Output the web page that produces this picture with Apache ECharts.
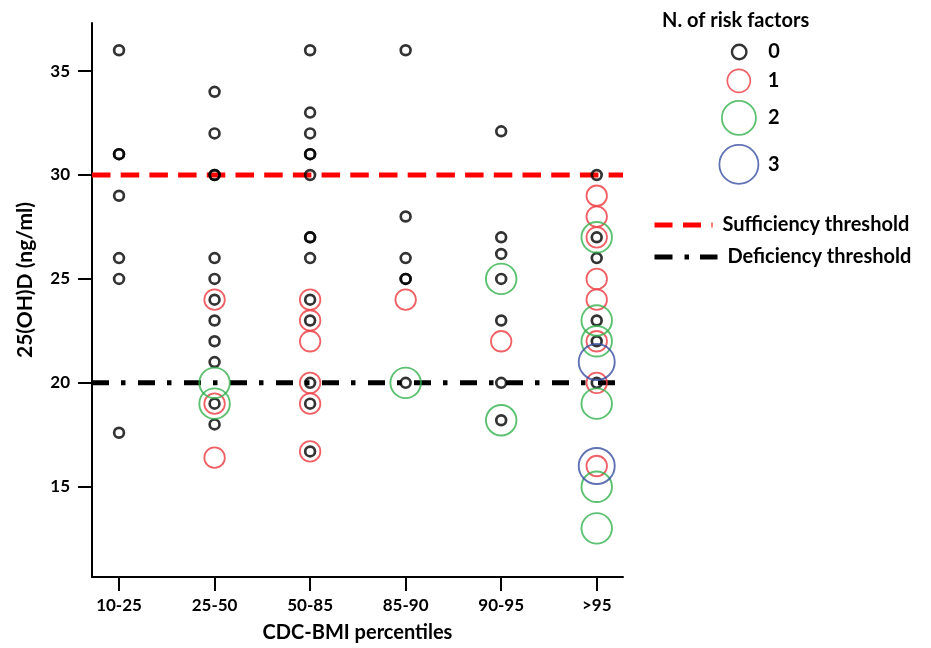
<!DOCTYPE html>
<html>
<head>
<meta charset="utf-8">
<script src="https://cdn.jsdelivr.net/npm/echarts@6/dist/echarts.min.js"></script>
<style>
  html, body { margin: 0; padding: 0; background: #fff; }
  #chart { width: 931px; height: 648px; }
</style>
</head>
<body>
<div id="chart"></div>
<script>
// categorie BMI (asse x) e tick dell'asse y
var categories = ['10-25', '25-50', '50-85', '85-90', '90-95', '>95'];
var yTicks = [15, 20, 25, 30, 35];

// punti [indice categoria, 25(OH)D] per numero di fattori di rischio
var risk0 = [
  [0, 36], [0, 31], [0, 31], [0, 29], [0, 26], [0, 25], [0, 17.6],
  [1, 34], [1, 32], [1, 30], [1, 30], [1, 26], [1, 25], [1, 24], [1, 23], [1, 22], [1, 21], [1, 19], [1, 18],
  [2, 36], [2, 33], [2, 32], [2, 31], [2, 31], [2, 30], [2, 27], [2, 27], [2, 26], [2, 24], [2, 23], [2, 20], [2, 19], [2, 16.7],
  [3, 36], [3, 28], [3, 26], [3, 25], [3, 25], [3, 20],
  [4, 32.1], [4, 27], [4, 26.2], [4, 25], [4, 23], [4, 20], [4, 18.2],
  [5, 30], [5, 27], [5, 26], [5, 23], [5, 22], [5, 20]
];
var risk1 = [
  [1, 24], [1, 19], [1, 16.4],
  [2, 24], [2, 23], [2, 22], [2, 20], [2, 19], [2, 16.7],
  [3, 24],
  [4, 22],
  [5, 29], [5, 28], [5, 27], [5, 25], [5, 24], [5, 22], [5, 20], [5, 16]
];
var risk2 = [
  [1, 20], [1, 19],
  [3, 20],
  [4, 25], [4, 18.2],
  [5, 27], [5, 23], [5, 22], [5, 19], [5, 15], [5, 13]
];
var risk3 = [
  [5, 21], [5, 16]
];

// soglie
var sufficiency = 30;
var deficiency = 20;

var xMin = -0.283, xMax = 5.275;
var FONT = 'Lato';
var RED = '#ec3a40', GREEN = '#33b24c', BLUE = '#3a4fa2';

function circleSeries(name, data, size, color, bw) {
  return {
    name: name,
    type: 'scatter',
    data: data,
    symbol: 'circle',
    symbolSize: size,
    z: 3,
    itemStyle: { color: 'rgba(0,0,0,0)', borderColor: color, borderWidth: bw }
  };
}

// una legenda per voce, così ogni cerchio ha la sua dimensione
function circleLegend(name, cy, size, color, bw) {
  return {
    data: [{ name: name, icon: 'circle',
      itemStyle: { color: 'rgba(0,0,0,0)', borderColor: color, borderWidth: bw } }],
    left: 738 - size / 2, top: cy - Math.max(size, 20) / 2, padding: 0,
    itemWidth: size, itemHeight: size,
    selectedMode: false,
    textStyle: { fontFamily: FONT, fontWeight: 'bold', fontSize: 20, color: '#000',
      padding: [0, 0, 0, 24 - size / 2] }
  };
}

var chart = echarts.init(document.getElementById('chart'));
chart.setOption({
  animation: false,
  backgroundColor: '#fff',
  title: {
    text: 'N. of risk factors',
    left: 662, top: 11, padding: 0,
    textStyle: { fontFamily: FONT, fontWeight: 'bold', fontSize: 20, color: '#000' }
  },
  legend: [
    circleLegend('0', 52, 14.5, '#000', 2.4),
    circleLegend('1', 80, 23, RED, 1.7),
    circleLegend('2', 117, 34, GREEN, 1.8),
    circleLegend('3', 163.5, 39, BLUE, 1.8),
    {
      data: ['Sufficiency threshold'],
      left: 652, top: 215, padding: 0,
      itemWidth: 58, itemHeight: 5,
      selectedMode: false,
      itemStyle: { opacity: 0, borderWidth: 0 },
      lineStyle: { width: 5, type: [18, 10.5], color: '#ff0000' },
      textStyle: { fontFamily: FONT, fontWeight: 'bold', fontSize: 20, color: '#000', padding: [0, 0, 0, 5] }
    },
    {
      data: ['Deficiency threshold'],
      left: 652, top: 247, padding: 0,
      itemWidth: 63, itemHeight: 5,
      selectedMode: false,
      itemStyle: { opacity: 0, borderWidth: 0 },
      lineStyle: { width: 5, type: [18, 12, 4.5, 11], color: '#000' },
      textStyle: { fontFamily: FONT, fontWeight: 'bold', fontSize: 20, color: '#000', padding: [0, 0, 0, 5] }
    }
  ],
  graphic: [{
    type: 'text',
    x: 25, y: 280,
    rotation: Math.PI / 2,
    style: {
      text: '25(OH)D (ng/ml)',
      font: 'bold 21px Lato',
      fill: '#000',
      textAlign: 'center',
      textVerticalAlign: 'middle'
    }
  }],
  grid: { left: 92, right: 308, top: 23, bottom: 71 },
  xAxis: {
    type: 'value',
    min: xMin, max: xMax,
    name: 'CDC-BMI percentiles',
    nameLocation: 'middle',
    nameGap: 46,
    nameTextStyle: { fontFamily: FONT, fontWeight: 'bold', fontSize: 20, color: '#000' },
    axisLine: { show: true, onZero: false, lineStyle: { color: '#000', width: 2 } },
    axisTick: { show: true, length: 14, customValues: [0, 1, 2, 3, 4, 5], lineStyle: { color: '#000', width: 2 } },
    axisLabel: {
      customValues: [0, 1, 2, 3, 4, 5],
      margin: 20,
      fontFamily: FONT, fontWeight: 'bold', fontSize: 17, color: '#000',
      formatter: function (v) { return categories[Math.round(v)]; }
    },
    splitLine: { show: false }
  },
  yAxis: {
    type: 'value',
    min: 10.66, max: 37.31,
    axisLine: { show: true, onZero: false, lineStyle: { color: '#000', width: 2 } },
    axisTick: { show: true, length: 14, customValues: yTicks, lineStyle: { color: '#000', width: 2 } },
    axisLabel: {
      customValues: yTicks,
      margin: 22,
      fontFamily: FONT, fontWeight: 'bold', fontSize: 17, color: '#000'
    },
    splitLine: { show: false }
  },
  series: [
    {
      name: 'Sufficiency threshold',
      type: 'line',
      data: [[xMin, sufficiency], [xMax, sufficiency]],
      symbol: 'none',
      z: 2,
      lineStyle: { color: '#ff0000', width: 5, type: [18.5, 10.2] }
    },
    {
      name: 'Deficiency threshold',
      type: 'line',
      data: [[xMin, deficiency], [xMax, deficiency]],
      symbol: 'none',
      z: 2,
      lineStyle: { color: '#000', width: 5, type: [17, 12, 4.5, 12.5] }
    },
    circleSeries('0', risk0, 9.8, '#000', 2.7),
    circleSeries('1', risk1, 20.5, RED, 1.8),
    circleSeries('2', risk2, 30.5, GREEN, 1.9),
    circleSeries('3', risk3, 36, BLUE, 1.9)
  ]
});
</script>
</body>
</html>
